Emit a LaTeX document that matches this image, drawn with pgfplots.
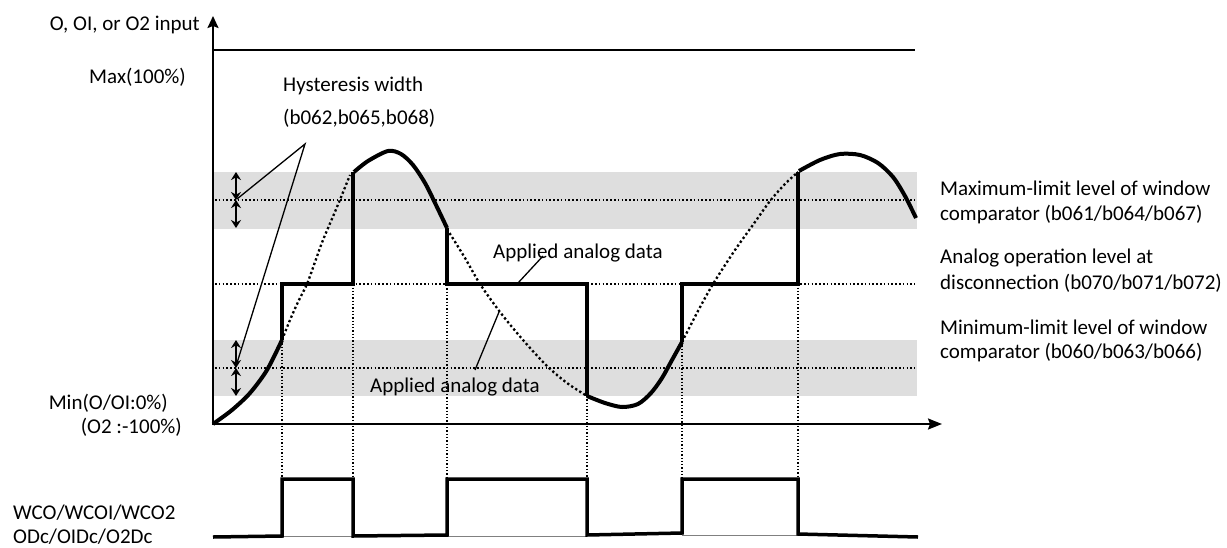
\documentclass[border=0pt]{standalone}
\usepackage{pgfplots}
\pgfplotsset{compat=1.18}
\usepackage{fontspec}
\setmainfont{Carlito}
\usetikzlibrary{arrows.meta}
\definecolor{band}{HTML}{DEDEDE}
\newcommand\lbl{\fontsize{21}{25}\selectfont}
\tikzset{lb/.style={font=\lbl, inner sep=0pt}}
\begin{document}
\begin{tikzpicture}
\begin{axis}[
 width=1227pt, height=547pt, scale only axis,
 xmin=0, xmax=1227, ymin=0, ymax=547, y dir=reverse,
 hide axis, clip=false,
]
% bands
\addplot[fill=band, draw=none] coordinates {(214,172)(917,172)(917,229)(214,229)} -- cycle;
\addplot[fill=band, draw=none] coordinates {(214,340)(917,340)(917,396)(214,396)} -- cycle;
% horizontal dotted levels
\addplot[line width=1.5pt, dash pattern=on 1.5pt off 2.3pt] coordinates {(215,200)(915,200)};
\addplot[line width=1.5pt, dash pattern=on 1.5pt off 2.3pt] coordinates {(215,284)(915,284)};
\addplot[line width=1.5pt, dash pattern=on 1.5pt off 2.3pt] coordinates {(215,368)(915,368)};
% vertical dotted lines
\addplot[line width=1.3pt, dash pattern=on 1.3pt off 2pt] coordinates {(282,340)(282,479)};
\addplot[line width=1.3pt, dash pattern=on 1.3pt off 2pt] coordinates {(353,172)(353,479)};
\addplot[line width=1.3pt, dash pattern=on 1.3pt off 2pt] coordinates {(447,229)(447,479)};
\addplot[line width=1.3pt, dash pattern=on 1.3pt off 2pt] coordinates {(587,396)(587,479)};
\addplot[line width=1.3pt, dash pattern=on 1.3pt off 2pt] coordinates {(682,342)(682,479)};
\addplot[line width=1.3pt, dash pattern=on 1.3pt off 2pt] coordinates {(798,172)(798,479)};
% axes and max line
\addplot[line width=2pt, -{Stealth[length=12pt,width=11pt,inset=2pt]}] coordinates {(213,425)(213,16)};
\addplot[line width=2pt, -{Stealth[length=14pt,width=11pt,inset=2pt]}] coordinates {(212,424)(942,424)};
\addplot[line width=2pt] coordinates {(213,50)(915,50)};
% dotted input curve
\addplot[smooth, line width=2.3pt, dash pattern=on 2.3pt off 2.5pt] coordinates {(282,340)(290,320)(298,302)(307,284)(315,262)(323,240)(337,207)(350,175)};
\addplot[smooth, line width=2.3pt, dash pattern=on 2.3pt off 2.5pt] coordinates {(447,229)(465,258)(480,284)(500,312)(523,340)(547,366)(567,383)(587,396)};
\addplot[smooth, line width=2.3pt, dash pattern=on 2.3pt off 2.5pt] coordinates {(682,342)(698,311)(713,284)(735,250)(755,222)(770,201)(785,184)(798,172)};
% applied analog data (thick)
\addplot[smooth, line width=4pt] coordinates {(213,424)(232,410)(250,393)(267,370)(282,340)};
\addplot[line width=4pt, line join=miter] coordinates {(282,340)(282,284)(353,284)(353,172)};
\addplot[smooth, line width=4pt] coordinates {(354,172)(368,161)(388,151)(401,154)(413,165)(425,183)(436,205)(447,228)};
\addplot[line width=4pt, line join=miter] coordinates {(447,228)(447,284)(587,284)(587,396)};
\addplot[smooth, line width=4pt] coordinates {(587,396)(605,403)(622,407)(638,404)(651,393)(662,378)(672,360)(682,342)};
\addplot[line width=4pt, line join=miter] coordinates {(682,342)(682,284)(798,284)(798,172)};
\addplot[smooth, line width=4pt] coordinates {(799,171)(820,160)(840,154)(860,155)(878,163)(893,177)(905,196)(916,218)};
% pulse train
\addplot[line width=0.8pt, gray] coordinates {(282,536)(353,536)};
\addplot[line width=0.8pt, gray] coordinates {(447,536)(587,536)};
\addplot[line width=0.8pt, gray] coordinates {(682,535)(798,535)};
\addplot[line width=3.5pt, line join=miter] coordinates {(213,537)(282,536)(282,479)(353,479)(353,536)(447,535)(447,479)(587,479)(587,535)(682,533)(682,479)(798,479)(798,534)(918,537)};
% hysteresis arrows
\addplot[line width=2.4pt, {Stealth[length=8pt,width=10pt]}-{Stealth[length=8pt,width=10pt]}] coordinates {(236,172)(236,200)};
\addplot[line width=2.4pt, {Stealth[length=8pt,width=10pt]}-{Stealth[length=8pt,width=10pt]}] coordinates {(236,200)(236,228)};
\addplot[line width=2.4pt, {Stealth[length=8pt,width=10pt]}-{Stealth[length=8pt,width=10pt]}] coordinates {(236,340)(236,368)};
\addplot[line width=2.4pt, {Stealth[length=8pt,width=10pt]}-{Stealth[length=8pt,width=10pt]}] coordinates {(236,368)(236,396)};
% leader lines
\addplot[line width=1.3pt] coordinates {(237,199)(305,144)(237,363)};
\addplot[line width=1.3pt] coordinates {(543,256)(518,283)};
\addplot[line width=1.3pt] coordinates {(475,370)(499,312)};
% texts
\node[lb, anchor=east] at (axis cs:200,25) {O, OI, or O2 input};
\node[lb, anchor=east] at (axis cs:186,77) {Max(100\%)};
\node[lb, anchor=west] at (axis cs:283,86) {Hysteresis width};
\node[lb, anchor=west] at (axis cs:283,118) {(b062,b065,b068)};
\node[lb, anchor=west] at (axis cs:493,253) {Applied analog data};
\node[lb, anchor=west] at (axis cs:370,387) {Applied analog data};
\node[lb, anchor=east] at (axis cs:168,403) {Min(O/OI:0\%)};
\node[lb, anchor=east] at (axis cs:182,427) {(O2 :-100\%)};
\node[lb, anchor=west] at (axis cs:13,513) {WCO/WCOI/WCO2};
\node[lb, anchor=west] at (axis cs:13,537) {ODc/OIDc/O2Dc};
\node[lb, anchor=west] at (axis cs:940,188) {Maximum-limit level of window};
\node[lb, anchor=west] at (axis cs:940,215) {comparator (b061/b064/b067)};
\node[lb, anchor=west] at (axis cs:940,258) {Analog operation level at};
\node[lb, anchor=west] at (axis cs:940,283) {disconnection (b070/b071/b072)};
\node[lb, anchor=west] at (axis cs:940,327) {Minimum-limit level of window};
\node[lb, anchor=west] at (axis cs:940,353) {comparator (b060/b063/b066)};
\end{axis}
\pgfresetboundingbox
\path (current axis.south west) rectangle (current axis.north east);
\end{tikzpicture}
\end{document}
